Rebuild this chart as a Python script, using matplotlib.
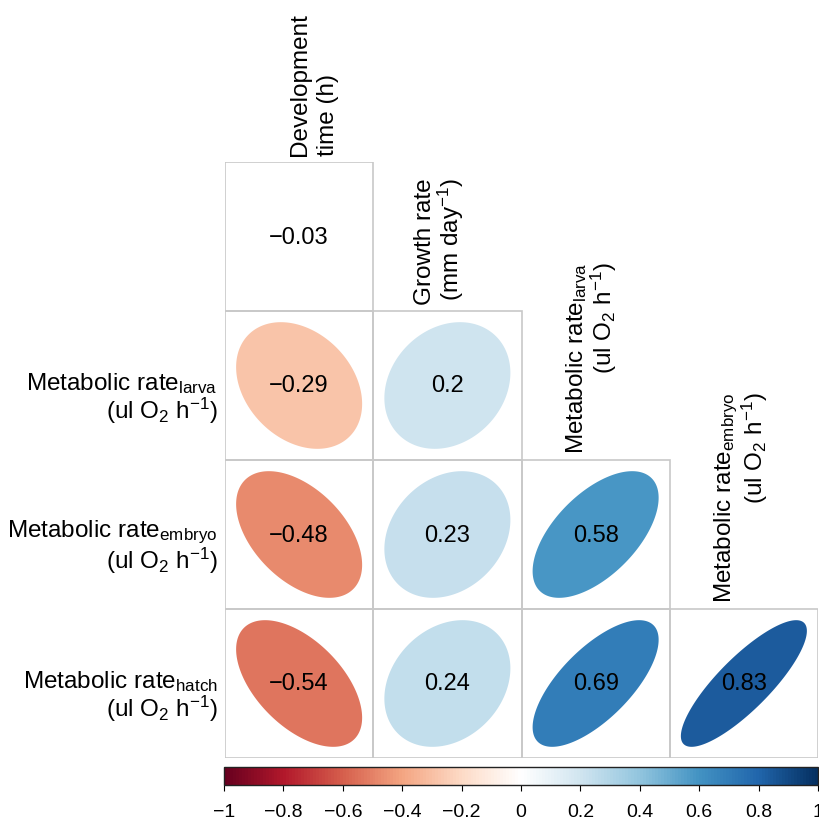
import numpy as np
import matplotlib
matplotlib.use("Agg")
import matplotlib.pyplot as plt
from matplotlib.colors import LinearSegmentedColormap, Normalize
from matplotlib.patches import Rectangle, Polygon
from matplotlib.cm import ScalarMappable

plt.rcParams['font.family'] = ['Liberation Sans', 'DejaVu Sans']
plt.rcParams['mathtext.fontset'] = 'custom'
plt.rcParams['mathtext.rm'] = 'Liberation Sans'
plt.rcParams['mathtext.it'] = 'Liberation Sans'
plt.rcParams['mathtext.default'] = 'regular'

# ---- data ----
col_labels = ["Development\ntime (h)",
              "Growth rate\n(mm day$^{-1}$)",
              "Metabolic rate$_{larva}$\n(ul O$_2$ h$^{-1}$)",
              "Metabolic rate$_{embryo}$\n(ul O$_2$ h$^{-1}$)"]
row_labels = ["",
              "Metabolic rate$_{larva}$\n(ul O$_2$ h$^{-1}$)",
              "Metabolic rate$_{embryo}$\n(ul O$_2$ h$^{-1}$)",
              "Metabolic rate$_{hatch}$\n(ul O$_2$ h$^{-1}$)"]
corr_row0 = [-0.03]
corr_row1 = [-0.29, 0.20]
corr_row2 = [-0.48, 0.23, 0.58]
corr_row3 = [-0.54, 0.24, 0.69, 0.83]
corr_rows = [corr_row0, corr_row1, corr_row2, corr_row3]
cbar_ticks = [-1, -0.8, -0.6, -0.4, -0.2, 0, 0.2, 0.4, 0.6, 0.8, 1]
palette = ["#67001F", "#B2182B", "#D6604D", "#F4A582", "#FDDBC7", "#FFFFFF",
           "#D1E5F0", "#92C5DE", "#4393C3", "#2166AC", "#053061"]

cmap = LinearSegmentedColormap.from_list("rdbu_corr", palette, N=200)
norm = Normalize(-1, 1)

W, H = 819, 820
fig = plt.figure(figsize=(W / 100, H / 100), dpi=100)

# grid axes in pixel-derived fractions
gl, gr, gt, gb = 225, 818, 163, 759
ax = fig.add_axes([gl / W, 1 - gb / H, (gr - gl) / W, (gb - gt) / H])
n = 4
ax.set_xlim(0, n)
ax.set_ylim(n, 0)
ax.axis('off')

grid_col = "#C8C8C8"
t = np.linspace(0, 2 * np.pi, 200)
for i, row in enumerate(corr_rows):
    for j, r in enumerate(row):
        ax.add_patch(Rectangle((j, i), 1, 1, fill=False, edgecolor=grid_col,
                               linewidth=1.2, zorder=1))
        a = np.arccos(r)
        ex = 0.85 * np.cos(t + a / 2) / 2
        ey = 0.85 * np.cos(t - a / 2) / 2
        pts = np.column_stack([j + 0.5 + ex, i + 0.5 - ey])
        fc = cmap(norm(r)) if abs(r) >= 0.05 else "white"
        ax.add_patch(Polygon(pts, closed=True, facecolor=fc,
                             edgecolor='none', zorder=2))
        txt = f"{r:.2f}".rstrip("0") if abs(r * 100 % 10) < 1e-9 else f"{r:.2f}"
        ax.text(j + 0.5, i + 0.5, txt.replace("-", "\u2212"),
                ha='center', va='center', fontsize=17, color='black', zorder=3)

# column labels (rotated), above each diagonal cell
col_dx = [0.10, -0.05, -0.03, -0.02]
col_align = ['left', 'right', 'right', 'right']
col_ls = [1.3, 1.0, 1.0, 1.0]
for j, lab in enumerate(col_labels):
    ax.text(j + 0.5 + col_dx[j], j - 0.05, lab, rotation=90, ha='center', va='bottom',
            multialignment=col_align[j], fontsize=17.5, clip_on=False,
            linespacing=col_ls[j])

# row labels
for i, lab in enumerate(row_labels):
    if lab:
        ax.text(-0.05, i + 0.58, lab, ha='right', va='center', multialignment='right',
                fontsize=17.5, clip_on=False, linespacing=1.0)

# colorbar
cl, cr, ct, cb = 224, 818, 768, 786
cax = fig.add_axes([cl / W, 1 - cb / H, (cr - cl) / W, (cb - ct) / H])
sm = ScalarMappable(norm=norm, cmap=cmap)
cbar = fig.colorbar(sm, cax=cax, orientation='horizontal', ticks=cbar_ticks)
cbar.ax.set_xticklabels([("%g" % v).replace("-", "\u2212") for v in cbar_ticks])
cbar.ax.tick_params(labelsize=14, length=4, width=0.8, direction='out', pad=9)
cbar.outline.set_linewidth(1.0)
cbar.outline.set_edgecolor('#222222')

fig.savefig("out.png", dpi=100)
